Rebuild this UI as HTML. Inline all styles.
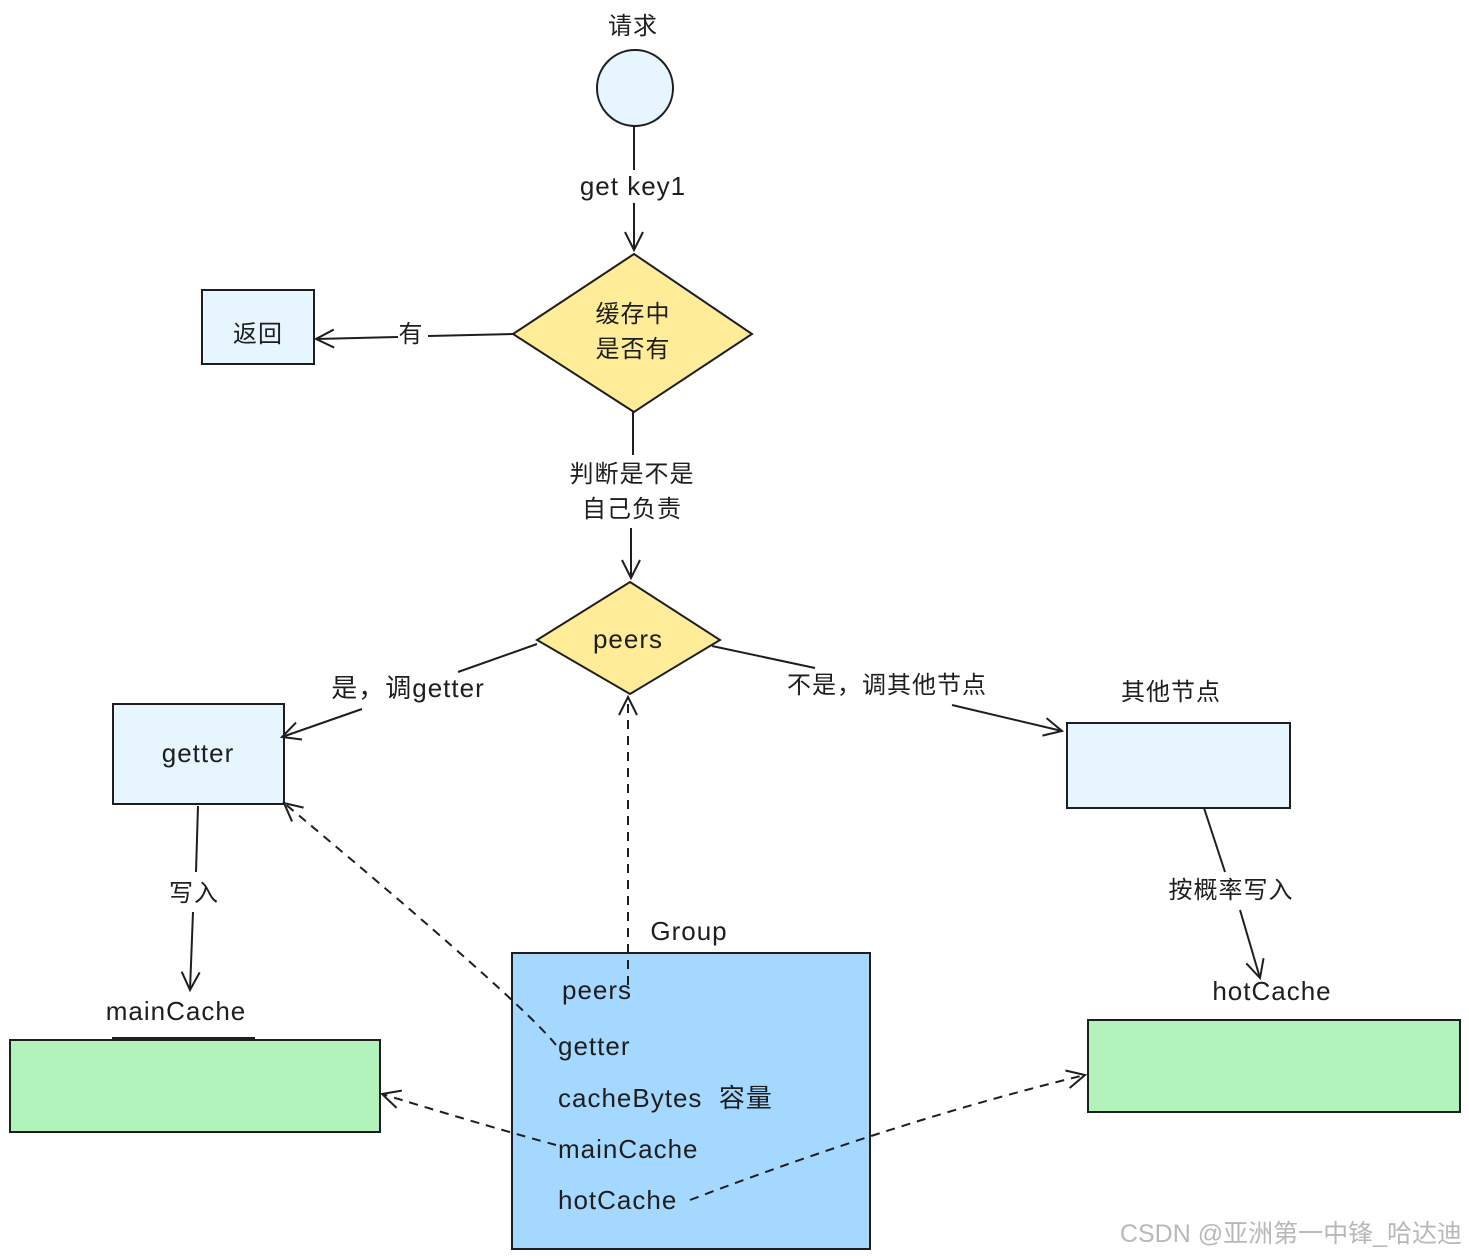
<!DOCTYPE html>
<html><head><meta charset="utf-8"><style>
html,body{margin:0;padding:0;background:#fff;}
svg{display:block;}
text{font-family:"Liberation Sans","Noto Sans CJK SC",sans-serif;fill:#1e1e1e;font-size:24px;letter-spacing:1px;}
.b{font-size:26px;}
</style></head><body>
<svg width="1469" height="1259" viewBox="0 0 1469 1259" xmlns="http://www.w3.org/2000/svg">
<defs>
<marker id="a" markerWidth="24" markerHeight="24" refX="20" refY="12" orient="auto" markerUnits="userSpaceOnUse">
<path d="M2,3 L20,12 L2,21" fill="none" stroke="#1e1e1e" stroke-width="2"/>
</marker>
</defs>
<g stroke="#1e1e1e" stroke-width="2" fill="none">
<circle cx="635" cy="88" r="38" fill="#e7f5ff"/>
<polygon points="634,254 752,334 634,412 513,334" fill="#ffec99"/>
<polygon points="630,582 720,640 630,694 537,640" fill="#ffec99"/>
<rect x="202" y="290" width="112" height="74" fill="#e7f5ff"/>
<rect x="113" y="704" width="171" height="100" fill="#e7f5ff"/>
<rect x="1067" y="723" width="223" height="85" fill="#e7f5ff"/>
<rect x="10" y="1040" width="370" height="92" fill="#b2f2bb"/>
<rect x="1088" y="1020" width="372" height="92" fill="#b2f2bb"/>
<rect x="512" y="953" width="358" height="296" fill="#a5d8ff"/>
<path d="M634,126 L634,170"/>
<path d="M634,203 L634,250" marker-end="url(#a)"/>
<path d="M513,334 L428,336"/>
<path d="M398,337 L316,339" marker-end="url(#a)"/>
<path d="M633,412 L633,455"/>
<path d="M631,528 L631,578" marker-end="url(#a)"/>
<path d="M537,644 L458,672"/>
<path d="M362,709 L282,737" marker-end="url(#a)"/>
<path d="M712,646 L815,668"/>
<path d="M952,705 L1062,731" marker-end="url(#a)"/>
<path d="M1204,808 L1225,872"/>
<path d="M1240,910 L1260,978" marker-end="url(#a)"/>
<path d="M198,806 L196,872"/>
<path d="M193,912 L190,990" marker-end="url(#a)"/>
<path d="M112,1038 L255,1038"/>
<g stroke-dasharray="9,7">
<path d="M628,985 L628,697" marker-end="url(#a)"/>
<path d="M556,1045 Q520,1000 284,803" marker-end="url(#a)"/>
<path d="M556,1145 Q500,1130 382,1094" marker-end="url(#a)"/>
<path d="M690,1200 Q900,1120 1085,1075" marker-end="url(#a)"/>
</g>
</g>
<g text-anchor="middle">
<text x="633" y="34">请求</text>
<text x="633" y="195" class="b">get key1</text>
<text x="633" y="322">缓存中</text>
<text x="633" y="357">是否有</text>
<text x="258" y="342">返回</text>
<text x="411" y="342">有</text>
<text x="632" y="482">判断是不是</text>
<text x="632" y="517">自己负责</text>
<text x="628" y="648" class="b">peers</text>
<text x="408" y="697" class="b">是，调getter</text>
<text x="887" y="693">不是，调其他节点</text>
<text x="1171" y="700">其他节点</text>
<text x="198" y="762" class="b">getter</text>
<text x="194" y="901">写入</text>
<text x="1231" y="898">按概率写入</text>
<text x="176" y="1020" class="b">mainCache</text>
<text x="1272" y="1000" class="b">hotCache</text>
<text x="689" y="940" class="b">Group</text>
</g>
<text x="562" y="999" class="b">peers</text>
<text x="558" y="1055" class="b">getter</text>
<text x="558" y="1107" class="b">cacheBytes&#160;&#160;容量</text>
<text x="558" y="1158" class="b">mainCache</text>
<text x="558" y="1209" class="b">hotCache</text>
<text x="1462" y="1242" text-anchor="end" style="fill:#b8b8b8;font-size:25px;letter-spacing:0">CSDN @亚洲第一中锋_哈达迪</text>
</svg>
</body></html>
